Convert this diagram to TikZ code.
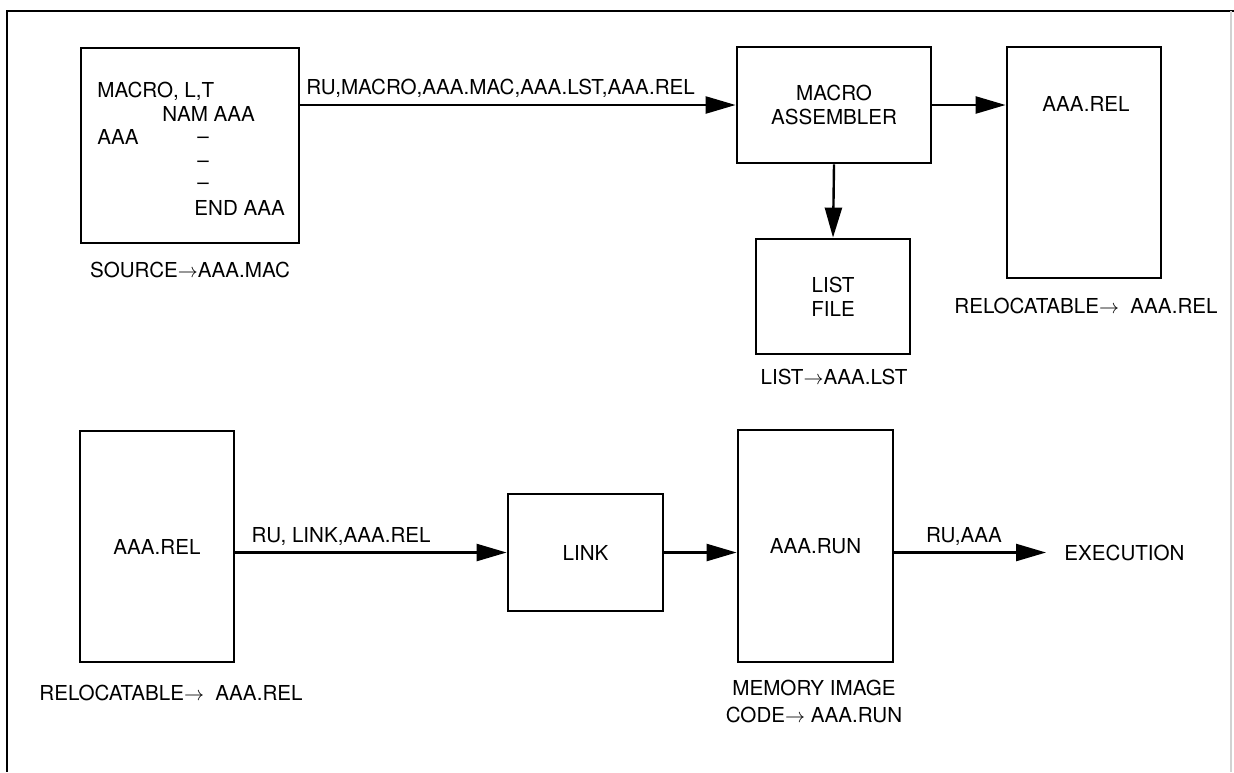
\documentclass[tikz,border=0pt]{standalone}
\usepackage{fontspec}
\setmainfont{TeX Gyre Heros}
\usetikzlibrary{arrows.meta,positioning}

\begin{document}
\begin{tikzpicture}[x=0.5pt,y=-0.5pt,
		font=\fontsize{10.3}{11.6}\selectfont,
		box/.style={draw,line width=1.4pt,align=center,inner sep=0pt},
		txt/.style={inner sep=0pt,align=center},
		flow/.style={line width=1.2pt,-{Triangle[length=15pt,width=8.5pt]}},
		lbl/.style={above,inner sep=3pt}]
	\useasboundingbox (0,0) rectangle (1234,772);
	\draw[line width=1.3pt] (1234,11) -- (7,11) -- (7,772);
	\draw[gray!35,line width=0.6pt] (1231,11) -- (1231,772);

	\node[box,minimum width=109pt,minimum height=97.5pt] (src) at (190,145.5) {};
		\node[txt,anchor=base west] (src1) at (97,97) {MACRO, L,T};
		\node[txt,anchor=base west] (src2) at (162,121) {NAM AAA};
		\node[txt,anchor=base west] (src3) at (97,144) {AAA};
		\node[txt,anchor=base west] (src4) at (197,143) {--};
		\node[txt,anchor=base west] (src5) at (197,167) {--};
		\node[txt,anchor=base west] (src6) at (197,189) {--};
		\node[txt,anchor=base west] (src7) at (194,215) {END AAA};
	\node[txt] (srclbl) at (190,270) {SOURCE$\rightarrow$AAA.MAC};

	\node[box,minimum width=97pt,minimum height=58pt] (asm) at (834,105) {MACRO\\ASSEMBLER};
	\node[box,minimum width=77pt,minimum height=57.5pt] (lst) at (833,296.5) {LIST\\[0.5pt]FILE};
	\node[txt] (lstlbl) at (834,377) {LIST$\rightarrow$AAA.LST};

	\node[box,minimum width=77pt,minimum height=115.5pt] (relA) at (1084,162.5) {};
	\node[txt] (relAtxt) at (1086,104) {AAA.REL};
	\node[txt] (relAlbl) at (1086,306) {RELOCATABLE$\rightarrow$\ \ AAA.REL};

	\draw[flow] (src.east |- asm.west) -- node[lbl,pos=0.46] (cmdA) {RU,MACRO,AAA.MAC,AAA.LST,AAA.REL} (asm.west);
	\draw[flow] (asm.east) -- (asm.east -| relA.west);
	\draw[flow] (asm.south) -- (lst.north);

	\node[box,minimum width=77pt,minimum height=115.5pt] (relB) at (157,546.5) {AAA.REL};
	\node[txt] (relBlbl) at (171,693) {RELOCATABLE$\rightarrow$\ \ AAA.REL};
	\node[box,minimum width=77.5pt,minimum height=58.5pt] (lnk) at (585.5,552.5) {LINK};
	\node[box,minimum width=77.5pt,minimum height=116pt] (run) at (815.5,546) {AAA.RUN};
	\node[txt] (runlbl) at (814,701.5) {MEMORY IMAGE\\[2pt]CODE$\rightarrow$ AAA.RUN};
	\node[txt] (exec) at (1124.5,552.5) {EXECUTION};

	\draw[flow] (relB.east |- lnk.west) -- node[lbl,pos=0.39] (cmdB) {RU, LINK,AAA.REL} (lnk.west);
	\draw[flow] (lnk.east) -- (lnk.east -| run.west);
	\draw[flow,shorten >=9pt] (run.east |- exec.west) -- node[lbl,pos=0.41] (cmdC) {RU,AAA} (exec.west);
\end{tikzpicture}
\end{document}
